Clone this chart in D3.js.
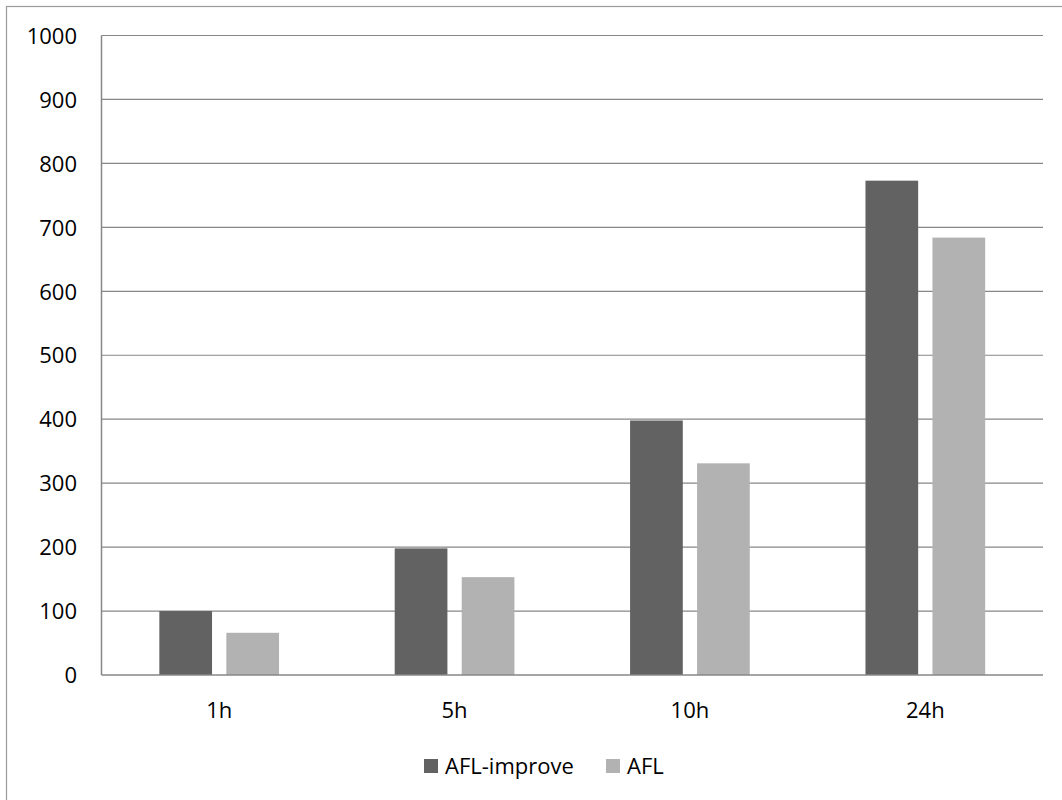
<!DOCTYPE html>
<html><head><meta charset="utf-8">
<script src="https://cdn.jsdelivr.net/npm/d3@7"></script>
<style>body{margin:0;background:#fff}svg{display:block}</style>
</head><body>
<svg id="c" width="1062" height="800"></svg>
<script>
const categories = ["1h","5h","10h","24h"];
const seriesNames = ["AFL-improve","AFL"];
const afLImprove = [100,198,398,773];
const afl = [66,153,331,684];
const yTicks = [0,100,200,300,400,500,600,700,800,900,1000];
const colors = ["#626262","#b2b2b2"];

const svg = d3.select("#c");
const font = "Open Sans, Lato, sans-serif";
const fs = "22px";
const L=101.5, R=1043, T=35.5, B=675;

svg.append("rect").attr("x",6.5).attr("y",6.5).attr("width",1100).attr("height",1000)
  .attr("fill","none").attr("stroke","#9a9a9a").attr("stroke-width",1.2);

const x = d3.scaleBand().domain(categories).range([L,R]);
const y = d3.scaleLinear().domain([0,1000]).range([B,T]);

const g = svg.append("g");
g.selectAll("line.grid").data(yTicks.filter(d=>d>0)).join("line")
  .attr("x1",L).attr("x2",R).attr("y1",d=>y(d)).attr("y2",d=>y(d))
  .attr("stroke","#878787").attr("stroke-width",1.2);

const barW = 52.7, gap = 14.3;
const data = [afLImprove, afl];
data.forEach((vals,si)=>{
  g.selectAll("rect.s"+si).data(vals).join("rect")
   .attr("x",(d,i)=>x(categories[i])+x.bandwidth()/2 - (barW*2+gap)/2 + si*(barW+gap))
   .attr("width",barW)
   .attr("y",d=>y(d)).attr("height",d=>B-y(d))
   .attr("fill",colors[si]);
});

g.append("line").attr("x1",L).attr("x2",L).attr("y1",T).attr("y2",B).attr("stroke","#878787").attr("stroke-width",1.5);
g.append("line").attr("x1",L).attr("x2",R).attr("y1",B).attr("y2",B).attr("stroke","#878787").attr("stroke-width",1.5);

const ya = d3.axisLeft(y).tickValues(yTicks).tickFormat(d3.format("d")).tickSize(0).tickPadding(0);
const yg = svg.append("g").attr("transform",`translate(77,0)`).call(ya);
yg.select(".domain").remove();
yg.selectAll("text").attr("font-family",font).attr("font-size",fs).attr("fill","#000").attr("dy","0.35em");

const xa = d3.axisBottom(x).tickSize(0).tickPadding(0);
const xg = svg.append("g").attr("transform",`translate(0,${B+35})`).call(xa);
xg.select(".domain").remove();
xg.selectAll("text").attr("font-family",font).attr("font-size",fs).attr("fill","#000").attr("dy","0.35em");

const leg = svg.append("g");
const legX = [424, 606];
seriesNames.forEach((n,i)=>{
  leg.append("rect").attr("x",legX[i]).attr("y",759).attr("width",14).attr("height",14).attr("fill",colors[i]);
  leg.append("text").attr("x",legX[i]+21).attr("y",766).attr("dy","0.35em")
    .attr("font-family",font).attr("font-size",fs).attr("fill","#000").text(n);
});
</script>
</body></html>
